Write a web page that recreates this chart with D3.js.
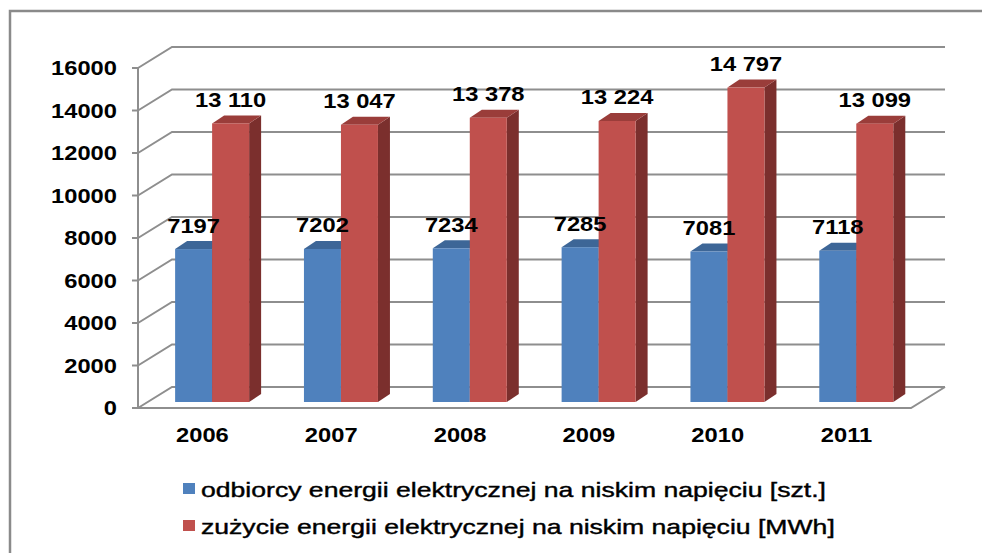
<!DOCTYPE html>
<html>
<head>
<meta charset="utf-8">
<script src="https://cdn.jsdelivr.net/npm/d3@7.9.0/dist/d3.min.js"></script>
<style>
  body { margin: 0; background: #fff; }
  svg { display: block; font-family: Arial, "Liberation Sans", sans-serif; }
</style>
</head>
<body>
<svg id="chart" width="982" height="553"></svg>
<script>
const years = ['2006', '2007', '2008', '2009', '2010', '2011'];
const odbiorcy = [7197, 7202, 7234, 7285, 7081, 7118];
const zuzycie = [13110, 13047, 13378, 13224, 14797, 13099];
const yTicks = [0, 2000, 4000, 6000, 8000, 10000, 12000, 14000, 16000];
const seriesNames = [
  'odbiorcy energii elektrycznej na niskim napięciu [szt.]',
  'zużycie energii elektrycznej na niskim napięciu [MWh]'
];

const colors = {
  blue: '#4f81bd', blueTop: '#3d6697', blueSide: '#2f5079',
  red: '#c0504d', redTop: '#9a3d3a', redSide: '#7b2f2d',
  grid: '#8e8e8e'
};

const svg = d3.select('#chart');

// front plane of the 3d box, and the depth offset to the back wall
const front = { left: 138, right: 911 };
const depth = { dx: 34, dy: -21 };
const x = d3.scaleBand().domain(years).range([front.left, front.right]);
const y = d3.scaleLinear().domain([0, 16000]).range([408, 68]);

// bars sit a bit inside the box
const barShift = { dx: 9.7, dy: -6 };
const barDepth = { dx: 12, dy: -8 };
const barW = 37;

const spaceFmt = d3.formatLocale({ decimal: ',', thousands: ' ', grouping: [3], currency: ['', ''] }).format(',d');

function stretchedText(parent, tx, ty, text, opts) {
  const g = parent.append('g')
    .attr('transform', `translate(${tx},${ty}) scale(${opts.sx},1)`);
  const t = g.append('text')
    .attr('text-anchor', opts.anchor || 'middle')
    .attr('dominant-baseline', opts.baseline || 'auto')
    .attr('font-size', opts.size)
    .attr('font-weight', opts.weight || 'bold')
    .attr('fill', '#000')
    .text(text);
  if (opts.stroke) t.attr('stroke', '#000').attr('stroke-width', opts.stroke);
  return g;
}

// outer border
svg.append('path')
  .attr('d', 'M10,560 L10,11 L990,11')
  .attr('fill', 'none')
  .attr('stroke', '#8a8a8a')
  .attr('stroke-width', 2.5);

// grid: back wall lines + left wall diagonals
const grid = svg.append('g').attr('stroke', colors.grid).attr('stroke-width', 2).attr('fill', 'none');
yTicks.forEach((t) => {
  const yy = y(t);
  grid.append('path')
    .attr('d', `M${front.left},${yy} L${front.left + depth.dx},${yy + depth.dy} L${front.right + depth.dx},${yy + depth.dy}`);
  grid.append('line')
    .attr('x1', front.left - 6).attr('x2', front.left)
    .attr('y1', yy).attr('y2', yy);
});
// floor front and right edges
grid.append('path')
  .attr('d', `M${front.left},${y(0)} L${front.right},${y(0)} L${front.right + depth.dx},${y(0) + depth.dy}`);
// axis line
grid.append('line')
  .attr('x1', front.left).attr('x2', front.left)
  .attr('y1', y(0)).attr('y2', y(16000));

// axis labels
yTicks.forEach((t) => {
  stretchedText(svg, 117, y(t), String(t), { sx: 1.13, size: 21, anchor: 'end', baseline: 'central' });
});

// bars
const bars = svg.append('g');
function drawBar(x0, value, face, top, side, label) {
  const xl = x0 + barShift.dx;
  const xr = xl + barW;
  const yb = y(0) + barShift.dy;
  const yt = yb - (y(0) - y(value));
  const { dx, dy } = barDepth;
  bars.append('path')
    .attr('d', `M${xr},${yb} L${xr + dx},${yb + dy} L${xr + dx},${yt + dy} L${xr},${yt} Z`)
    .attr('fill', side);
  bars.append('path')
    .attr('d', `M${xl},${yt} L${xl + dx},${yt + dy} L${xr + dx},${yt + dy} L${xr},${yt} Z`)
    .attr('fill', top);
  bars.append('rect')
    .attr('x', xl).attr('y', yt)
    .attr('width', barW).attr('height', yb - yt)
    .attr('fill', face);
  stretchedText(svg, (xl + xr) / 2, yt - 16.5, label, { sx: 1.13, size: 21 });
}

years.forEach((yr, i) => {
  const c = x(yr) + x.bandwidth() / 2;
  drawBar(c - barW, odbiorcy[i], colors.blue, colors.blueTop, colors.blueSide, String(odbiorcy[i]));
  drawBar(c, zuzycie[i], colors.red, colors.redTop, colors.redSide, spaceFmt(zuzycie[i]));
  stretchedText(svg, c, 442, yr, { sx: 1.13, size: 21 });
});

// legend
const legend = svg.append('g');
[colors.blue, colors.red].forEach((col, i) => {
  const ly = 497 + i * 37;
  legend.append('rect')
    .attr('x', 183).attr('y', ly - 14)
    .attr('width', 12).attr('height', 11)
    .attr('fill', col);
  stretchedText(legend, 201, ly, seriesNames[i], { sx: 1.33, size: 20, anchor: 'start', weight: 'normal', stroke: 0.4 });
});
</script>
</body>
</html>
